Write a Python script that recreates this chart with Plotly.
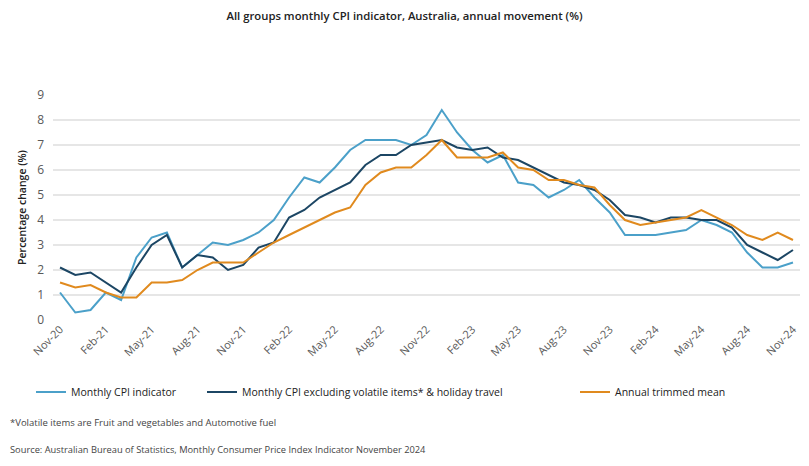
import plotly.graph_objects as go

months = ["Nov-20", "Dec-20",
          "Jan-21", "Feb-21", "Mar-21", "Apr-21", "May-21", "Jun-21", "Jul-21", "Aug-21", "Sep-21", "Oct-21", "Nov-21", "Dec-21",
          "Jan-22", "Feb-22", "Mar-22", "Apr-22", "May-22", "Jun-22", "Jul-22", "Aug-22", "Sep-22", "Oct-22", "Nov-22", "Dec-22",
          "Jan-23", "Feb-23", "Mar-23", "Apr-23", "May-23", "Jun-23", "Jul-23", "Aug-23", "Sep-23", "Oct-23", "Nov-23", "Dec-23",
          "Jan-24", "Feb-24", "Mar-24", "Apr-24", "May-24", "Jun-24", "Jul-24", "Aug-24", "Sep-24", "Oct-24", "Nov-24"]

cpi_indicator = [1.1, 0.3,
                 0.4, 1.1, 0.8, 2.5, 3.3, 3.5, 2.1, 2.6, 3.1, 3.0, 3.2, 3.5,
                 4.0, 4.9, 5.7, 5.5, 6.1, 6.8, 7.2, 7.2, 7.2, 7.0, 7.4, 8.4,
                 7.5, 6.8, 6.3, 6.6, 5.5, 5.4, 4.9, 5.2, 5.6, 4.9, 4.3, 3.4,
                 3.4, 3.4, 3.5, 3.6, 4.0, 3.8, 3.5, 2.7, 2.1, 2.1, 2.3]

cpi_excl_volatile = [2.1, 1.8,
                     1.9, 1.5, 1.1, 2.1, 3.0, 3.4, 2.1, 2.6, 2.5, 2.0, 2.2, 2.9,
                     3.1, 4.1, 4.4, 4.9, 5.2, 5.5, 6.2, 6.6, 6.6, 7.0, 7.1, 7.2,
                     6.9, 6.8, 6.9, 6.5, 6.4, 6.1, 5.8, 5.5, 5.4, 5.2, 4.8, 4.2,
                     4.1, 3.9, 4.1, 4.1, 4.0, 4.0, 3.7, 3.0, 2.7, 2.4, 2.8]

trimmed_mean = [1.5, 1.3,
                1.4, 1.1, 0.9, 0.9, 1.5, 1.5, 1.6, 2.0, 2.3, 2.3, 2.3, 2.7,
                3.1, 3.4, 3.7, 4.0, 4.3, 4.5, 5.4, 5.9, 6.1, 6.1, 6.6, 7.2,
                6.5, 6.5, 6.5, 6.7, 6.1, 6.0, 5.6, 5.6, 5.4, 5.3, 4.6, 4.0,
                3.8, 3.9, 4.0, 4.1, 4.4, 4.1, 3.8, 3.4, 3.2, 3.5, 3.2]

tick_labels = months[::3]
y_ticks = list(range(0, 10))

FONT = "Open Sans"
W, H = 809, 466
fig = go.Figure()
fig.add_trace(go.Scatter(x=months, y=cpi_indicator, mode="lines", name="Monthly CPI indicator",
                         line=dict(color="#4BA0C9", width=2), legend="legend", showlegend=True))
fig.add_trace(go.Scatter(x=months, y=cpi_excl_volatile, mode="lines",
                         name="Monthly CPI excluding volatile items* & holiday travel",
                         line=dict(color="#1C4664", width=2), legend="legend2", showlegend=True))
fig.add_trace(go.Scatter(x=months, y=trimmed_mean, mode="lines", name="Annual trimmed mean",
                         line=dict(color="#E08A1E", width=2), legend="legend3", showlegend=True))

leg_common = dict(orientation="h", yanchor="middle", y=1 - 392 / H, xref="container", yref="container",
                  font=dict(family=FONT, size=10.5, color="#222222"), bgcolor="rgba(0,0,0,0)",
                  itemwidth=30)
fig.update_layout(
    width=W, height=H, showlegend=True,
    margin=dict(l=53, r=9, t=95, b=146, autoexpand=False),
    paper_bgcolor="white", plot_bgcolor="white",
    title=dict(text="All groups monthly CPI indicator, Australia, annual movement (%)",
               x=0.5, xanchor="center", y=1 - 16 / H, yanchor="middle",
               font=dict(family=FONT, size=11.3, color="#222222", weight=600)),
    legend=dict(**leg_common, x=31 / W, xanchor="left"),
    legend2=dict(**leg_common, x=202 / W, xanchor="left"),
    legend3=dict(**leg_common, x=575 / W, xanchor="left"),
    xaxis=dict(type="category", range=[-0.46, 48.46], tickmode="array", tickvals=tick_labels,
               ticktext=tick_labels, tickangle=-45, showgrid=False, showline=False, ticks="",
               tickfont=dict(family=FONT, size=11, color="#595959"), zeroline=False),
    yaxis=dict(range=[0, 9], tickvals=y_ticks, showgrid=True, gridcolor="#E6E6E6", gridwidth=1.5,
               zeroline=False, showline=False, ticks="", ticklabelstandoff=8,
               tickfont=dict(family=FONT, size=12, color="#595959"),
               title=dict(text="Percentage change (%)", standoff=8,
                          font=dict(family=FONT, size=10.5, color="#222222", weight=600))),
    annotations=[
        dict(text="*Volatile items are Fruit and vegetables and Automotive fuel", xref="paper", yref="paper",
             x=-45 / 747, y=-0.455, xanchor="left", yanchor="middle", showarrow=False,
             font=dict(family=FONT, size=9.5, color="#444444")),
        dict(text="Source: Australian Bureau of Statistics, Monthly Consumer Price Index Indicator November 2024",
             xref="paper", yref="paper", x=-45 / 747, y=-0.575, xanchor="left", yanchor="middle", showarrow=False,
             font=dict(family=FONT, size=9.3, color="#444444")),
    ],
)

fig.write_html("out.html")
